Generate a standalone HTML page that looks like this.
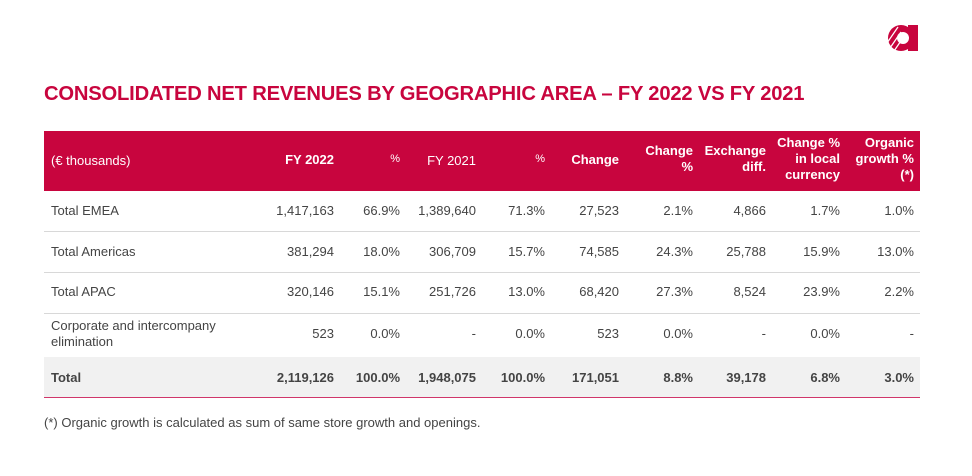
<!DOCTYPE html>
<html><head><meta charset="utf-8"><style>
body{margin:0;width:972px;height:476px;background:#fff;position:relative;overflow:hidden;font-family:"Liberation Sans",sans-serif;color:#444}
.a{position:absolute;white-space:nowrap;font-size:13px}
.r{text-align:right}
.h{color:#fff;font-weight:bold;line-height:16px}
.line{position:absolute;left:44px;width:876px;height:1px;background:#d8d8d8}
</style></head><body>
<svg style="position:absolute;left:884px;top:23px" width="36" height="30" viewBox="0 0 36 30">
<rect x="24" y="2" width="10" height="26" fill="#c8053e"/>
<circle cx="17" cy="15" r="13" fill="#c8053e"/>
<circle cx="19" cy="15" r="6" fill="#fff"/>
<g stroke="#fff" stroke-width="1.3"><line x1="3" y1="20" x2="14" y2="4"/><line x1="6" y1="25" x2="17" y2="9"/><line x1="10" y1="28" x2="21" y2="12"/></g>
</svg>
<div class="a" style="left:44px;top:83px;font-size:20.2px;font-weight:bold;color:#c8053e;letter-spacing:-0.2px">CONSOLIDATED NET REVENUES BY GEOGRAPHIC AREA – FY 2022 VS FY 2021</div>
<div style="position:absolute;left:44px;top:131px;width:876px;height:60px;background:#c8053e"></div>
<div class="a" style="left:51px;top:153px;color:#fff">(€ thousands)</div>
<div class="a h r" style="right:638px;top:152px">FY 2022</div>
<div class="a r" style="right:572px;top:153px;color:#fff;font-size:11px">%</div>
<div class="a r" style="right:496px;top:153px;color:#fff">FY 2021</div>
<div class="a r" style="right:427px;top:153px;color:#fff;font-size:11px">%</div>
<div class="a h r" style="right:353px;top:152px">Change</div>
<div class="a h r" style="right:279px;top:143px">Change<br>%</div>
<div class="a h r" style="right:206px;top:143px">Exchange<br>diff.</div>
<div class="a h r" style="right:132px;top:135px">Change %<br>in local<br>currency</div>
<div class="a h r" style="right:58px;top:135px">Organic<br>growth %<br>(*)</div>
<div class="line" style="top:231px"></div>
<div class="line" style="top:272px"></div>
<div class="line" style="top:313px"></div>
<div style="position:absolute;left:44px;top:357px;width:876px;height:40px;background:#f1f1f1"></div>
<div style="position:absolute;left:44px;top:397px;width:876px;height:1px;background:#d0366a"></div>
<div id="rows"></div>
<div class="a" style="left:44px;top:415px">(*) Organic growth is calculated as sum of same store growth and openings.</div>
<script>
var rights=[638,572,496,427,353,279,206,132,58];
var rows=[
[203,"Total EMEA",["1,417,163","66.9%","1,389,640","71.3%","27,523","2.1%","4,866","1.7%","1.0%"]],
[244,"Total Americas",["381,294","18.0%","306,709","15.7%","74,585","24.3%","25,788","15.9%","13.0%"]],
[284,"Total APAC",["320,146","15.1%","251,726","13.0%","68,420","27.3%","8,524","23.9%","2.2%"]],
[326,"",["523","0.0%","-","0.0%","523","0.0%","-","0.0%","-"]],
[370,"Total",["2,119,126","100.0%","1,948,075","100.0%","171,051","8.8%","39,178","6.8%","3.0%"],1]];
var h="";
rows.forEach(function(r){
 var b=r[3]?"font-weight:bold;":"";
 if(r[1])h+='<div class="a" style="left:51px;top:'+r[0]+'px;'+b+'">'+r[1]+'</div>';
 r[2].forEach(function(v,i){h+='<div class="a r" style="right:'+rights[i]+'px;top:'+r[0]+'px;'+b+'">'+v+'</div>';});
});
h+='<div class="a" style="left:51px;top:318px;line-height:16px">Corporate and intercompany<br>elimination</div>';
document.getElementById("rows").innerHTML=h;
</script>
</body></html>
